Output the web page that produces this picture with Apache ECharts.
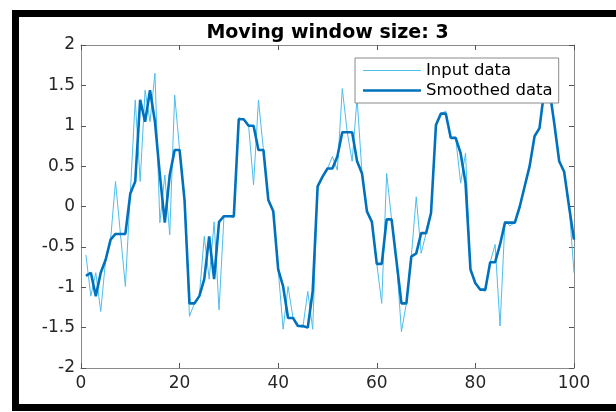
<!DOCTYPE html>
<html>
<head>
<meta charset="utf-8">
<script src="https://cdn.jsdelivr.net/npm/echarts@6/dist/echarts.min.js"></script>
<style>
html,body{margin:0;padding:0;background:#fff;overflow:hidden;}
#chart{width:616px;height:412px;}
</style>
</head>
<body>
<div id="chart"></div>
<script>
const titleText = 'Moving window size: 3';
const seriesNames = ['Input data', 'Smoothed data'];
const xTicks = [0, 20, 40, 60, 80, 100];
const yTicks = [-2, -1.5, -1, -0.5, 0, 0.5, 1, 1.5, 2];

const inputData = [
  -0.60, -1.11, -0.82, -1.30, -0.66, -0.41, 0.31, -0.34, -0.99, 0.16,
  1.32, 0.31, 1.44, 1.05, 1.65, -0.20, 0.39, -0.35, 1.38, 0.70,
  0.08, -1.36, -1.20, -1.11, -0.37, -0.90, -0.19, -1.28, -0.12, -0.12,
  -0.14, 1.10, 1.08, 1.00, 0.27, 1.32, 0.70, 0.08, -0.06, -0.78,
  -1.52, -0.99, -1.38, -1.48, -1.50, -1.05, -1.52, 0.25, 0.37, 0.47,
  0.62, 0.45, 1.46, 0.92, 0.56, 1.34, 0.41, -0.06, -0.19, -0.71,
  -1.20, 0.41, -0.16, -0.68, -1.55, -1.20, -0.62, 0.12, -0.58, -0.33,
  -0.08, 1.01, 1.15, 1.18, 0.85, 0.85, 0.29, 0.66, -0.78, -0.95,
  -1.03, -1.05, -0.69, -0.47, -1.48, -0.18, -0.24, -0.20, 0.00, 0.25,
  0.50, 0.87, 0.97, 1.45, 1.55, 1.03, 0.56, 0.43, 0.00, -0.82
];

const smoothedData = [
  -0.86, -0.82, -1.11, -0.82, -0.66, -0.41, -0.34, -0.34, -0.34, 0.16,
  0.31, 1.32, 1.05, 1.44, 1.05, 0.39, -0.20, 0.39, 0.70, 0.70,
  0.08, -1.20, -1.20, -1.11, -0.90, -0.37, -0.90, -0.19, -0.12, -0.12,
  -0.12, 1.08, 1.08, 1.00, 1.00, 0.70, 0.70, 0.08, -0.06, -0.78,
  -0.99, -1.38, -1.38, -1.48, -1.48, -1.50, -1.05, 0.25, 0.37, 0.47,
  0.47, 0.62, 0.92, 0.92, 0.92, 0.56, 0.41, -0.06, -0.19, -0.71,
  -0.71, -0.16, -0.16, -0.68, -1.20, -1.20, -0.62, -0.58, -0.33, -0.33,
  -0.08, 1.01, 1.15, 1.15, 0.85, 0.85, 0.66, 0.29, -0.78, -0.95,
  -1.03, -1.03, -0.69, -0.69, -0.47, -0.20, -0.20, -0.20, 0.00, 0.25,
  0.50, 0.87, 0.97, 1.45, 1.45, 1.03, 0.56, 0.43, 0.00, -0.41
];

const FONT = 'DejaVu Sans';
const AX = '#8a8a8a';
const TXT = '#262626';
const C_IN = '#4DBEEE';
const C_SM = '#0072BD';

const chart = echarts.init(document.getElementById('chart'), null, {renderer: 'canvas', width: 616, height: 412});

function pairs(arr) { return arr.map((v, i) => [i + 1, v]); }

const baseX = {
  type: 'value', min: xTicks[0], max: xTicks[xTicks.length - 1], interval: 20,
  axisLine: {show: true, onZero: false, lineStyle: {color: AX, width: 1}},
  axisTick: {show: true, inside: true, length: 5, lineStyle: {color: '#555', width: 1}},
  splitLine: {show: false}
};
const baseY = {
  type: 'value', min: yTicks[0], max: yTicks[yTicks.length - 1], interval: 0.5,
  axisLine: {show: true, onZero: false, lineStyle: {color: AX, width: 1}},
  axisTick: {show: true, inside: true, length: 5, lineStyle: {color: '#555', width: 1}},
  splitLine: {show: false}
};

chart.setOption({
  backgroundColor: '#ffffff',
  animation: false,
  title: {
    text: titleText,
    left: 322.5,
    top: 19,
    textAlign: 'center',
    textStyle: {fontFamily: FONT, fontSize: 19, fontWeight: 'bold', color: '#000'}
  },
  grid: {left: 81, top: 45, right: 42, bottom: 44, containLabel: false},
  xAxis: [
    Object.assign({}, baseX, {position: 'bottom',
      axisLabel: {show: true, margin: 7, color: TXT, fontFamily: FONT, fontSize: 17}}),
    Object.assign({}, baseX, {position: 'top', axisLabel: {show: false}})
  ],
  yAxis: [
    Object.assign({}, baseY, {position: 'left',
      axisLabel: {show: true, margin: 6, color: TXT, fontFamily: FONT, fontSize: 17}}),
    Object.assign({}, baseY, {position: 'right', axisLabel: {show: false}})
  ],
  legend: {
    orient: 'vertical',
    left: 355, top: 58,
    padding: [4, 6, 4, 8],
    itemGap: 3,
    itemWidth: 58, itemHeight: 14,
    backgroundColor: '#ffffff',
    borderColor: '#8a8a8a', borderWidth: 1,
    textStyle: {fontFamily: FONT, fontSize: 16.5, color: '#000'},
    data: [
      {name: seriesNames[0], icon: 'path://M0,0h0.01v14h-0.01z M0,6.5h58v1h-58z', itemStyle: {color: C_IN}},
      {name: seriesNames[1], icon: 'path://M0,0h0.01v14h-0.01z M0,5.7h58v2.6h-58z', itemStyle: {color: C_SM}}
    ]
  },
  series: [
    {
      name: seriesNames[0], type: 'line', data: pairs(inputData),
      symbol: 'none', smooth: false,
      lineStyle: {color: C_IN, width: 1},
      itemStyle: {color: C_IN}
    },
    {
      name: seriesNames[1], type: 'line', data: pairs(smoothedData),
      symbol: 'none', smooth: false,
      lineStyle: {color: C_SM, width: 2.6},
      itemStyle: {color: C_SM}
    }
  ],
  graphic: [
    {type: 'rect', silent: true, z: 100, shape: {x: 12, y: 10, width: 7, height: 401}, style: {fill: '#000'}},
    {type: 'rect', silent: true, z: 100, shape: {x: 12, y: 10, width: 604, height: 7}, style: {fill: '#000'}},
    {type: 'rect', silent: true, z: 100, shape: {x: 12, y: 404, width: 604, height: 7}, style: {fill: '#000'}}
  ]
});
</script>
</body>
</html>
